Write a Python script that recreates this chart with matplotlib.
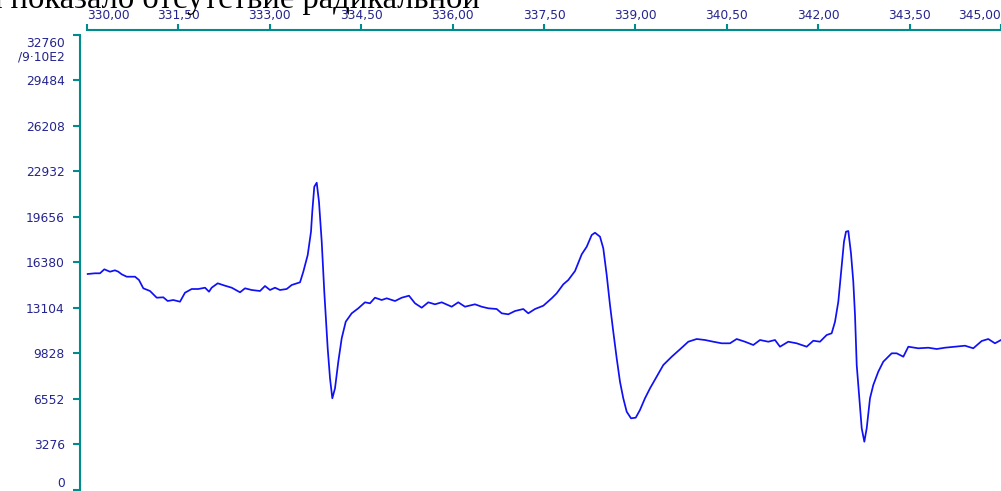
import matplotlib
matplotlib.use("Agg")
import matplotlib.pyplot as plt
import matplotlib.transforms as mtransforms

# Field values (x) and signal intensities (y)
field = [330.011, 330.131, 330.213, 330.284, 330.377, 330.459, 330.514, 330.569, 330.652, 330.788,
         330.853, 330.924, 331.034, 331.144, 331.252, 331.324, 331.416, 331.526, 331.608, 331.718,
         331.827, 331.937, 332.002, 332.046, 332.145, 332.265, 332.375, 332.511, 332.593, 332.703,
         332.839, 332.921, 333.003, 333.085, 333.167, 333.277, 333.359, 333.496, 333.550, 333.622,
         333.676, 333.697, 333.730, 333.770, 333.807, 333.852, 333.894, 333.950, 333.988, 334.026,
         334.070, 334.124, 334.180, 334.246, 334.344, 334.452, 334.562, 334.644, 334.726, 334.836,
         334.918, 335.055, 335.165, 335.284, 335.383, 335.493, 335.601, 335.711, 335.821, 335.985,
         336.093, 336.203, 336.367, 336.477, 336.586, 336.724, 336.806, 336.914, 337.024, 337.160,
         337.242, 337.352, 337.489, 337.626, 337.708, 337.817, 337.899, 338.009, 338.119, 338.201,
         338.283, 338.337, 338.419, 338.473, 338.529, 338.583, 338.637, 338.693, 338.747, 338.801,
         338.857, 338.928, 339.005, 339.075, 339.157, 339.240, 339.349, 339.458, 339.596, 339.732,
         339.868, 340.006, 340.142, 340.278, 340.416, 340.552, 340.662, 340.798, 340.935, 341.045,
         341.181, 341.291, 341.373, 341.509, 341.647, 341.811, 341.920, 342.029, 342.139, 342.221,
         342.276, 342.330, 342.386, 342.423, 342.456, 342.494, 342.538, 342.576, 342.604, 342.632,
         342.670, 342.714, 342.757, 342.796, 342.850, 342.904, 342.986, 343.068, 343.206, 343.288,
         343.397, 343.479, 343.643, 343.807, 343.945, 344.081, 344.245, 344.409, 344.545, 344.683,
         344.791, 344.901, 345.000]
signal = [15533, 15584, 15584, 15872, 15699, 15800, 15699, 15512, 15339, 15339,
          15101, 14502, 14308, 13825, 13854, 13587, 13659, 13537, 14185, 14452,
          14452, 14546, 14257, 14546, 14863, 14690, 14546, 14214, 14502, 14380,
          14308, 14668, 14380, 14546, 14380, 14452, 14740, 14935, 15699, 16903,
          18582, 20024, 21826, 22114, 20745, 17861, 14257, 10178, 8015, 6574,
          7294, 9212, 10899, 12095, 12700, 13061, 13493, 13421, 13825, 13659,
          13782, 13587, 13825, 13969, 13421, 13104, 13493, 13349, 13493, 13176,
          13493, 13176, 13349, 13176, 13061, 13010, 12700, 12628, 12866, 13010,
          12700, 13010, 13248, 13782, 14142, 14791, 15101, 15749, 16953, 17501,
          18344, 18510, 18222, 17386, 15461, 13299, 11374, 9457, 7770, 6574,
          5608, 5132, 5175, 5730, 6574, 7294, 8131, 8974, 9572, 10106,
          10653, 10848, 10776, 10653, 10538, 10538, 10848, 10653, 10416, 10776,
          10653, 10776, 10293, 10653, 10538, 10293, 10725, 10653, 11136, 11259,
          12095, 13537, 16182, 17861, 18582, 18633, 17025, 14978, 12578, 8974,
          6812, 4411, 3445, 4411, 6574, 7532, 8491, 9212, 9817, 9817,
          9572, 10293, 10178, 10221, 10127, 10221, 10293, 10365, 10178, 10704,
          10848, 10538, 10776]

x_ticks = [330.0, 331.5, 333.0, 334.5, 336.0, 337.5, 339.0, 340.5, 342.0, 343.5, 345.0]
x_tick_labels = ["330,00", "331,50", "333,00", "334,50", "336,00", "337,50",
                 "339,00", "340,50", "342,00", "343,50", "345,00"]
y_ticks = [0, 3276, 6552, 9828, 13104, 16380, 19656, 22932, 26208, 29484, 32760]
y_tick_labels = ["0", "3276", "6552", "9828", "13104", "16380", "19656",
                 "22932", "26208", "29484", ""]
y_top_label = "32760\n/9·10E2"
caption = "а показало отсутствие радикальной"

W, H = 1001, 491
fig = plt.figure(figsize=(W / 100, H / 100), dpi=100)
fig.patch.set_facecolor("white")

ax = fig.add_axes([80 / W, 0, 1 - 80 / W, 1 - 30 / H])
ax.set_facecolor("white")

teal = "#008c8c"
label_col = "#24248e"
fs = 8.8

ax.plot(field, signal, color="#1010f5", lw=1.25, solid_joinstyle="round")

ax.set_xlim(329.885, 345.0)
ax.set_ylim(-108, 33121)

ax.spines["bottom"].set_visible(False)
ax.spines["right"].set_visible(False)
for s in ("top", "left"):
    ax.spines[s].set_color(teal)
    ax.spines[s].set_linewidth(1.5)
ax.spines["top"].set_bounds(330.0, 345.0)
ax.spines["left"].set_bounds(0, 32760)

ax.xaxis.tick_top()
ax.set_xticks(x_ticks)
ax.set_xticklabels(x_tick_labels)
ax.set_yticks(y_ticks)
ax.set_yticklabels(y_tick_labels)

ax.tick_params(axis="x", which="major", direction="out", length=4, width=1.5,
               color=teal, labelcolor=label_col, labelsize=fs, pad=1.5)
ax.tick_params(axis="y", which="major", direction="out", length=5, width=1.5,
               color=teal, labelcolor=label_col, labelsize=fs, pad=6)

xt = ax.xaxis.get_major_ticks()
xt[0].label2.set_horizontalalignment("left")
xt[-1].label2.set_horizontalalignment("right")
yt = ax.yaxis.get_major_ticks()
yt[0].label1.set_verticalalignment("bottom")

off = mtransforms.offset_copy(ax.get_yaxis_transform(), fig=fig, x=-15, y=-2, units="dots")
ax.text(0, 32760, y_top_label, transform=off, ha="right", va="top",
        fontsize=fs, color=label_col, linespacing=1.0, multialignment="right")

fig.text(-12 / W, 1 - 8 / H, caption, family="Liberation Serif", fontsize=23.5,
         color="black", ha="left", va="baseline")

fig.savefig("out.png", dpi=100, facecolor="white")
